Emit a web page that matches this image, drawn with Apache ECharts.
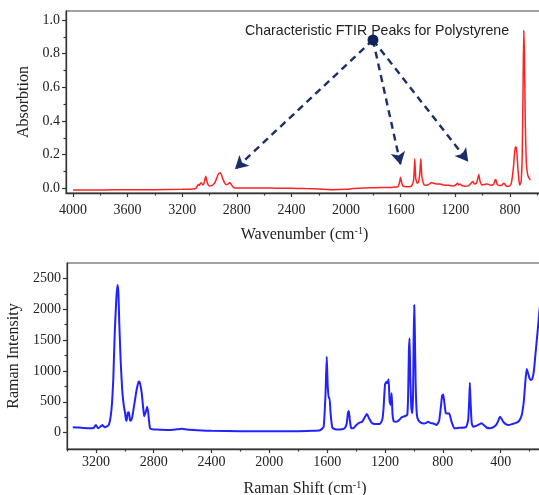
<!DOCTYPE html>
<html>
<head>
<meta charset="utf-8">
<script src="https://cdn.jsdelivr.net/npm/echarts@6/dist/echarts.min.js"></script>
<style>
  html, body { margin: 0; padding: 0; background: #fff; }
  #chart { width: 539px; height: 495px; }
</style>
</head>
<body>
<div id="chart"></div>
<script>
// FTIR spectrum (top panel)
var ftirWavenumber = [4000, 3800, 3600, 3400, 3200, 3120, 3100, 3090, 3083, 3076, 3066, 3060, 3050, 3040, 3032, 3027, 3022, 3010, 3000, 2980, 2960, 2945, 2935, 2924, 2915, 2900, 2880, 2865, 2851, 2840, 2825, 2800, 2700, 2600, 2500, 2400, 2300, 2200, 2100, 2000, 1950, 1900, 1850, 1800, 1750, 1700, 1650, 1620, 1610, 1601, 1595, 1585, 1570, 1540, 1520, 1505, 1497, 1490, 1480, 1470, 1460, 1453, 1445, 1430, 1410, 1390, 1375, 1360, 1340, 1310, 1290, 1250, 1220, 1200, 1183, 1175, 1166, 1155, 1130, 1100, 1080, 1070, 1060, 1045, 1035, 1028, 1020, 1005, 980, 965, 940, 920, 908, 903, 895, 880, 860, 845, 838, 825, 805, 790, 775, 765, 757, 750, 742, 733, 727, 718, 710, 704, 699, 694, 688, 680, 670, 660, 650];
var ftirAbsorbance = [-0.01, -0.01, -0.008, -0.008, -0.006, -0.004, 0.0, 0.012, 0.022, 0.017, 0.03, 0.033, 0.02, 0.03, 0.06, 0.072, 0.05, 0.02, 0.014, 0.018, 0.035, 0.065, 0.085, 0.093, 0.085, 0.05, 0.022, 0.025, 0.034, 0.022, 0.006, 0.001, 0.002, 0.002, 0.0, 0.0, -0.002, -0.004, -0.008, -0.006, -0.002, 0.0, 0.002, 0.003, 0.004, 0.004, 0.006, 0.01, 0.03, 0.065, 0.04, 0.015, 0.01, 0.009, 0.015, 0.05, 0.175, 0.06, 0.03, 0.035, 0.09, 0.175, 0.07, 0.022, 0.018, 0.025, 0.034, 0.03, 0.026, 0.026, 0.02, 0.018, 0.014, 0.018, 0.03, 0.02, 0.026, 0.018, 0.012, 0.016, 0.035, 0.04, 0.025, 0.03, 0.06, 0.082, 0.045, 0.02, 0.024, 0.025, 0.018, 0.022, 0.05, 0.052, 0.025, 0.016, 0.018, 0.03, 0.025, 0.012, 0.013, 0.03, 0.12, 0.22, 0.247, 0.22, 0.12, 0.04, 0.02, 0.04, 0.2, 0.6, 0.937, 0.8, 0.4, 0.15, 0.08, 0.06, 0.05];

// Raman spectrum (bottom panel), ten values per row
var ramanShift = [
  3360, 3320, 3280, 3240, 3215, 3200, 3185, 3170, 3156, 3140,
  3126, 3110, 3098, 3088, 3080, 3069, 3058, 3050, 3044, 3039,
  3029, 3018, 3006, 2999, 2993, 2988, 2980, 2972, 2964, 2958,
  2948, 2935, 2918, 2905, 2900, 2894, 2883, 2872, 2866, 2856,
  2845, 2838, 2826, 2810, 2780, 2700, 2640, 2605, 2570, 2500,
  2400, 2200, 2000, 1800, 1700, 1650, 1625, 1612, 1603, 1597,
  1590, 1584, 1576, 1565, 1550, 1520, 1500, 1480, 1465, 1456,
  1450, 1443, 1435, 1420, 1400, 1380, 1358, 1340, 1325, 1310,
  1292, 1270, 1250, 1235, 1218, 1210, 1200, 1190, 1183, 1175,
  1168, 1160, 1154, 1148, 1138, 1120, 1100, 1085, 1074, 1060,
  1046, 1040, 1035, 1030, 1025, 1018, 1012, 1006, 1002, 998,
  994, 988, 980, 970, 950, 930, 915, 901, 885, 865,
  843, 825, 812, 805, 797, 790, 780, 770, 756, 740,
  720, 705, 690, 640, 625, 618, 613, 608, 600, 590,
  570, 545, 531, 515, 495, 474, 450, 430, 415, 405,
  395, 380, 365, 347, 320, 289, 270, 254, 240, 230,
  220, 212, 200, 190, 180, 170, 160, 150, 140, 133,
  120, 107
];
var ramanIntensity = [
  90, 85, 75, 72, 80, 125, 70, 95, 125, 90,
  97, 130, 260, 500, 853, 1663, 2200, 2392, 2250, 1825,
  1177, 690, 420, 330, 220, 190, 320, 330, 200, 195,
  260, 450, 700, 826, 830, 790, 640, 380, 265, 330,
  421, 320, 71, 55, 50, 45, 55, 62, 50, 40,
  30, 25, 22, 25, 30, 40, 90, 600, 1230, 800,
  560, 570, 300, 90, 60, 50, 55, 70, 150, 330,
  351, 200, 80, 70, 120, 160, 178, 250, 303, 230,
  160, 140, 140, 140, 220, 400, 780, 826, 800, 864,
  500, 450, 640, 300, 180, 178, 210, 250, 260, 270,
  290, 600, 1300, 1528, 900, 400, 314, 600, 1500, 2068,
  1700, 800, 300, 205, 160, 150, 160, 178, 155, 150,
  125, 200, 450, 600, 620, 500, 320, 310, 314, 180,
  71, 70, 80, 90, 200, 500, 810, 500, 150, 97,
  110, 140, 152, 120, 80, 71, 90, 130, 200, 260,
  230, 170, 140, 125, 140, 162, 200, 287, 500, 800,
  1031, 980, 880, 853, 880, 1000, 1250, 1500, 1750, 1950,
  2200, 2450
];

// tick values
var ftirXLabels = [4000, 3600, 3200, 2800, 2400, 2000, 1600, 1200, 800];
var ftirXMinor = [3800, 3400, 3000, 2600, 2200, 1800, 1400, 1000, 600];
var ftirYLabels = [0, 0.2, 0.4, 0.6, 0.8, 1.0];
var ftirYMinor = [0.1, 0.3, 0.5, 0.7, 0.9];
var ramanXLabels = [3200, 2800, 2400, 2000, 1600, 1200, 800, 400];
var ramanXMinor = [3400, 3000, 2600, 2200, 1800, 1400, 1000, 600, 200];
var ramanYLabels = [0, 500, 1000, 1500, 2000, 2500];
var ramanYMinor = [250, 750, 1250, 1750, 2250];

// callout (in FTIR data coordinates)
var calloutText = 'Characteristic FTIR Peaks for Polystyrene';
var calloutOrigin = [1803, 0.881];
var calloutTargets = [[2814, 0.113], [1600, 0.138], [1105, 0.158]];

var serif = 'Liberation Serif, Times New Roman, serif';
var axisColor = '#333';

function pairs(xs, ys) {
  return xs.map(function (x, i) { return [x, ys[i]]; });
}

function nameRich() {
  return {
    n: { fontFamily: serif, fontSize: 16, color: '#222', lineHeight: 18 },
    s: { fontFamily: serif, fontSize: 10, color: '#222', verticalAlign: 'top', lineHeight: 18, padding: [0, 0, 6, 0] }
  };
}

function mainX(grid, min, max, labels, name, gap, margin) {
  return {
    type: 'value', gridIndex: grid, min: min, max: max, inverse: true, position: 'bottom',
    name: name, nameLocation: 'middle', nameGap: gap,
    nameTextStyle: { rich: nameRich() },
    axisLine: { onZero: false, lineStyle: { color: axisColor, width: 1.3 } },
    axisTick: { customValues: labels, length: 4, lineStyle: { color: axisColor, width: 1.2 } },
    axisLabel: {
      customValues: labels, margin: margin, fontFamily: serif, fontSize: 14, color: '#222',
      formatter: function (v) { return String(v); }
    },
    splitLine: { show: false }
  };
}

function minorX(grid, min, max, ticks) {
  return {
    type: 'value', gridIndex: grid, min: min, max: max, inverse: true, position: 'bottom',
    axisLine: { show: false, onZero: false },
    axisTick: { customValues: ticks, length: 2.5, lineStyle: { color: axisColor, width: 1.2 } },
    axisLabel: { show: false },
    splitLine: { show: false }
  };
}

function mainY(grid, min, max, labels, name, gap, fmt) {
  return {
    type: 'value', gridIndex: grid, min: min, max: max, position: 'left',
    name: name, nameLocation: 'middle', nameGap: gap,
    nameTextStyle: { fontFamily: serif, fontSize: 16, color: '#222' },
    axisLine: { show: true, onZero: false, lineStyle: { color: axisColor, width: 1.3 } },
    axisTick: { show: true, customValues: labels, length: 4, lineStyle: { color: axisColor, width: 1.2 } },
    axisLabel: { customValues: labels, margin: 6, fontFamily: serif, fontSize: 14, color: '#222', formatter: fmt },
    splitLine: { show: false }
  };
}

function minorY(grid, min, max, ticks) {
  return {
    type: 'value', gridIndex: grid, min: min, max: max, position: 'left',
    axisLine: { show: false, onZero: false },
    axisTick: { show: true, customValues: ticks, length: 2.5, lineStyle: { color: axisColor, width: 1.2 } },
    axisLabel: { show: false },
    splitLine: { show: false }
  };
}

var myChart = echarts.init(document.getElementById('chart'), null, { renderer: 'canvas' });

var option = {
  animation: false,
  backgroundColor: '#fff',
  title: {
    text: calloutText,
    left: 240, top: 19,
    textStyle: { fontFamily: 'Liberation Sans, Arial, sans-serif', fontSize: 14.2, fontWeight: 'normal', color: '#222' }
  },
  grid: [
    { left: 66, top: 11, width: 477, height: 182, outerBoundsMode: 'none', containLabel: false,
      show: true, borderColor: '#444', borderWidth: 1 },
    { left: 67, top: 263, width: 476, height: 186, outerBoundsMode: 'none', containLabel: false,
      show: true, borderColor: '#444', borderWidth: 1 }
  ],
  xAxis: [
    mainX(0, 558, 4051, ftirXLabels, '{n|Wavenumber (cm}{s|-1}{n|)}', 33, 10),
    minorX(0, 558, 4051, ftirXMinor),
    mainX(1, 107, 3400, ramanXLabels, '{n|Raman Shift (cm}{s|-1}{n|)}', 31, 6),
    minorX(1, 107, 3400, ramanXMinor)
  ],
  yAxis: [
    mainY(0, -0.028, 1.053, ftirYLabels, 'Absorbtion', 31, function (v) { return v.toFixed(1); }),
    minorY(0, -0.028, 1.053, ftirYMinor),
    mainY(1, -264, 2748, ramanYLabels, 'Raman Intensity', 41, function (v) { return String(v); }),
    minorY(1, -264, 2748, ramanYMinor)
  ],
  series: [
    {
      name: 'FTIR', type: 'line', xAxisIndex: 0, yAxisIndex: 0,
      data: pairs(ftirWavenumber, ftirAbsorbance),
      showSymbol: false, symbol: 'none', smooth: 0.15,
      lineStyle: { color: '#ff2222', width: 1.5 },
      markLine: {
        silent: true,
        symbol: ['none', 'arrow'],
        symbolSize: [11, 13],
        label: { show: false },
        lineStyle: { color: '#1c2d6b', width: 2.4, type: [7, 5] },
        data: calloutTargets.map(function (t) {
          return [{ coord: calloutOrigin }, { coord: t }];
        })
      },
      markPoint: {
        silent: true,
        symbol: 'circle',
        symbolSize: 11,
        label: { show: false },
        itemStyle: { color: '#10225a' },
        data: [{ coord: calloutOrigin }]
      }
    },
    {
      name: 'Raman', type: 'line', xAxisIndex: 2, yAxisIndex: 2,
      data: pairs(ramanShift, ramanIntensity),
      showSymbol: false, symbol: 'none', smooth: 0.15,
      lineStyle: { color: '#2222ff', width: 2 }
    }
  ]
};
myChart.setOption(option);
</script>
</body>
</html>
